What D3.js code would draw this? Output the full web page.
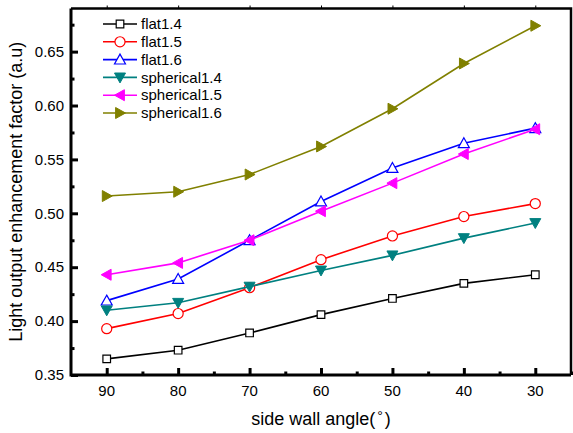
<!DOCTYPE html>
<html>
<head>
<meta charset="utf-8">
<script src="https://cdn.jsdelivr.net/npm/d3@7"></script>
<style>
body { margin: 0; background: #fff; }
svg { display: block; font-family: "Liberation Sans", Arial, sans-serif; }
</style>
</head>
<body>
<svg id="chart" width="573" height="433"></svg>
<script>
const angles = [90, 80, 70, 60, 50, 40, 30];
const flat14 = [0.365, 0.373, 0.389, 0.406, 0.421, 0.435, 0.443];
const flat15 = [0.393, 0.407, 0.431, 0.457, 0.479, 0.497, 0.509];
const flat16 = [0.419, 0.439, 0.475, 0.511, 0.542, 0.565, 0.579];
const spherical14 = [0.410, 0.417, 0.432, 0.447, 0.461, 0.477, 0.491];
const spherical15 = [0.443, 0.454, 0.475, 0.502, 0.528, 0.555, 0.578];
const spherical16 = [0.516, 0.520, 0.536, 0.562, 0.597, 0.639, 0.674];
const seriesNames = ["flat1.4", "flat1.5", "flat1.6", "spherical1.4", "spherical1.5", "spherical1.6"];
const xTicks = [90, 80, 70, 60, 50, 40, 30];
const yTicks = [0.35, 0.40, 0.45, 0.50, 0.55, 0.60, 0.65];

const series = [
  {name: seriesNames[0], values: flat14, color: "#000000", shape: "square", filled: false},
  {name: seriesNames[1], values: flat15, color: "#ff0000", shape: "circle", filled: false},
  {name: seriesNames[2], values: flat16, color: "#0000ff", shape: "up", filled: false},
  {name: seriesNames[3], values: spherical14, color: "#008080", shape: "down", filled: true},
  {name: seriesNames[4], values: spherical15, color: "#ff00ff", shape: "left", filled: true},
  {name: seriesNames[5], values: spherical16, color: "#808000", shape: "right", filled: true}
];

const svg = d3.select("#chart");
const L = 71, R = 571, T = 8.5, B = 375;
const x = d3.scaleLinear().domain([95, 25]).range([L, R]);
const y = d3.scaleLinear().domain([0.35, 0.69]).range([B, T]);

function markerPath(shape) {
  const s = 5.5;
  switch (shape) {
    case "square": return "M-3.8,-3.8H3.8V3.8H-3.8Z";
    case "circle": return d3.symbol(d3.symbolCircle, 80)();
    case "up": return `M0,${-s}L${s},${s*0.8}L${-s},${s*0.8}Z`;
    case "down": return `M0,${s}L${s},${-s*0.8}L${-s},${-s*0.8}Z`;
    case "left": return `M${-s},0L${s*0.8},${-s}L${s*0.8},${s}Z`;
    case "right": return `M${s},0L${-s*0.8},${-s}L${-s*0.8},${s}Z`;
  }
}

// lines and markers
const line = d3.line().x((d, i) => x(angles[i])).y(d => y(d));
series.forEach(s => {
  svg.append("path").attr("d", line(s.values)).attr("fill", "none")
    .attr("stroke", s.color).attr("stroke-width", 1.6);
  svg.selectAll(null).data(s.values).enter().append("path")
    .attr("transform", (d, i) => `translate(${x(angles[i])},${y(d)})`)
    .attr("d", markerPath(s.shape))
    .attr("fill", s.filled ? s.color : "#fff")
    .attr("stroke", s.color).attr("stroke-width", s.filled ? 1 : 1.2);
});

// Axes (inward ticks)
const xMinor = d3.range(85, 24, -10);
const yMinor = d3.range(0.375, 0.69, 0.05);
const bottomG = svg.append("g").attr("transform", `translate(0,${B})`);
bottomG.call(d3.axisTop(x).tickValues(xTicks).tickSize(7).tickFormat(""));
bottomG.append("g").call(d3.axisTop(x).tickValues(xMinor).tickSize(3.5).tickFormat(""));
bottomG.selectAll(".domain").remove();
bottomG.selectAll("line").attr("stroke", "#000").attr("stroke-width", 3);
bottomG.selectAll(null).data(xTicks).enter().append("text")
  .attr("x", d => x(d)).attr("y", 21).attr("text-anchor", "middle")
  .attr("fill", "#000").attr("font-size", 15).text(d => d);

const leftG = svg.append("g").attr("transform", `translate(${L},0)`);
leftG.call(d3.axisRight(y).tickValues(yTicks).tickSize(7).tickFormat(""));
leftG.append("g").call(d3.axisRight(y).tickValues(yMinor).tickSize(3.5).tickFormat(""));
leftG.selectAll(".domain").remove();
leftG.selectAll("line").attr("stroke", "#000").attr("stroke-width", 3);
leftG.selectAll(null).data(yTicks).enter().append("text")
  .attr("x", -7).attr("y", d => y(d)).attr("dy", "0.35em").attr("text-anchor", "end")
  .attr("fill", "#000").attr("font-size", 15).text(d => d3.format(".2f")(d));

// top small outward ticks
const topG = svg.append("g").attr("transform", `translate(0,${T})`);
topG.call(d3.axisTop(x).tickValues(xTicks).tickSize(3).tickFormat(""));
topG.selectAll(".domain").remove();
topG.selectAll("line").attr("stroke", "#000").attr("stroke-width", 1);

// frame
svg.append("path").attr("d", `M${L},${T}H${R}V${B}`).attr("fill", "none")
  .attr("stroke", "#000").attr("stroke-width", 2.5);
svg.append("path").attr("d", `M${L},${T}V${B}H${R}`).attr("fill", "none")
  .attr("stroke", "#000").attr("stroke-width", 3);

// axis titles
const xt = svg.append("text").attr("x", (L + R) / 2).attr("y", 425)
  .attr("text-anchor", "middle").attr("font-size", 18);
xt.append("tspan").text("side wall angle(");
xt.append("tspan").attr("dx", 2).attr("dy", -4).attr("font-size", 14).text("\u00B0");
xt.append("tspan").attr("dx", 2).attr("dy", 4).text(")");

svg.append("text").attr("transform", `translate(22,${(T + B) / 2}) rotate(-90)`)
  .attr("text-anchor", "middle").attr("font-size", 18)
  .text("Light output enhancement factor (a.u)");

// legend
const lg = svg.append("g");
series.forEach((s, i) => {
  const yy = 24 + i * 17.8;
  lg.append("line").attr("x1", 103).attr("x2", 137).attr("y1", yy).attr("y2", yy)
    .attr("stroke", s.color).attr("stroke-width", 1.6);
  lg.append("path").attr("transform", `translate(120,${yy})`).attr("d", markerPath(s.shape))
    .attr("fill", s.filled ? s.color : "#fff").attr("stroke", s.color)
    .attr("stroke-width", s.filled ? 1 : 1.2);
  lg.append("text").attr("x", 141).attr("y", yy).attr("dy", "0.35em")
    .attr("font-size", 15).text(s.name);
});
</script>
</body>
</html>
